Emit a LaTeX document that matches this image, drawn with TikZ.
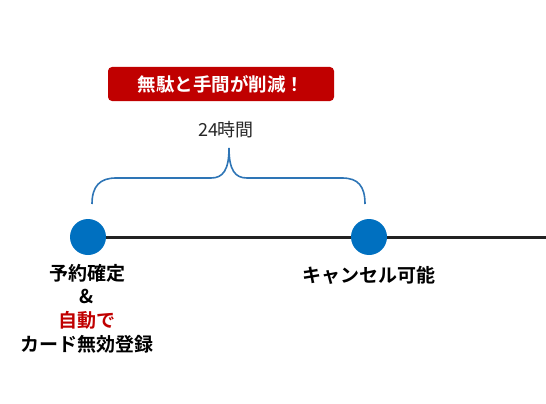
\documentclass[tikz,border=0pt]{standalone}
\usepackage{fontspec}
\newfontfamily\jp{Noto Sans CJK JP}
\newfontfamily\jpb{Noto Sans CJK JP Bold}
\definecolor{dotblue}{HTML}{0070C0}
\definecolor{braceblue}{HTML}{2E75B6}
\definecolor{boxred}{HTML}{C00000}
\definecolor{linegray}{HTML}{222222}
\begin{document}
\begin{tikzpicture}[x=1pt,y=-1pt,
  dot/.style={circle,fill=dotblue,minimum size=36pt,inner sep=0pt},
  lbl/.style={font=\jpb\fontsize{19}{23.7}\selectfont,align=center,text=black,inner sep=0pt},
  banner/.style={fill=boxred,rounded corners=4pt,minimum width=226pt,minimum height=34pt,inner sep=0pt,text=white,font=\jpb\fontsize{18.5}{20}\selectfont},
  brace/.style={draw=braceblue,line width=1.6pt}]
\useasboundingbox (0,0) rectangle (546,404);
\node[banner] (ban) at (221,84) {無駄と手間が削減！};
\node[font=\jp\fontsize{18}{20}\selectfont,text=black!85,inner sep=0pt] (dur) at (226,130) {24時間};
\coordinate (lineend) at (546,237);
\node[dot] (c1) at (88,237) {};
\node[dot] (c2) at (369,237) {};
\draw[linegray,line width=3pt] (c1.east) -- (c2.west);
\draw[linegray,line width=3pt] (c2.east) -- (lineend);
\coordinate (bl) at (92,204);
\coordinate (br) at (365,204);
\coordinate (bp) at (229,148);
\draw[brace] (bl) .. controls (92,186) and (100,178) .. (116,178) -- (211,178)
  .. controls (223,178) and (229,170) .. (bp)
  .. controls (229,170) and (235,178) .. (247,178) -- (342,178)
  .. controls (358,178) and (365,186) .. (br);
\node[lbl] (l1) at (87,308.5) {予約確定\\\&\\\textcolor{boxred}{自動で}\\カード無効登録};
\node[lbl] (l2) at (369,275) {キャンセル可能};
\end{tikzpicture}
\end{document}
